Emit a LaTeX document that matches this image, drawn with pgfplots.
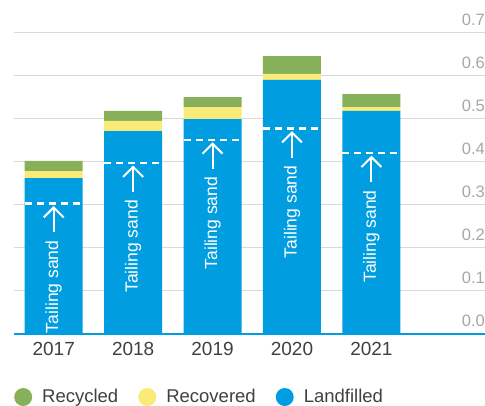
\documentclass[border=0pt]{standalone}
\usepackage{pgfplots}
\pgfplotsset{compat=1.18}
\usepackage{fontspec}
\setmainfont{Liberation Sans}
\usetikzlibrary{arrows.meta}
\definecolor{cgreen}{HTML}{86B05A}
\definecolor{cyellow}{HTML}{FAEB78}
\definecolor{cblue}{HTML}{009EE0}
\definecolor{cgrid}{HTML}{D9D9D9}
\definecolor{ctick}{HTML}{A6A6A6}
\definecolor{cyear}{HTML}{404040}
\begin{document}
\begin{tikzpicture}
\pgfplotsset{
  common/.style={
    scale only axis, width=471pt, height=301.5pt,
    xmin=-0.5, xmax=5.43, ymin=0, ymax=0.7,
  }
}
\begin{axis}[
  common,
  ybar stacked, bar width=58pt,
  axis x line*=bottom, axis y line*=right,
  x axis line style={draw=cblue, line width=2pt, -},
  y axis line style={draw=none},
  major tick length=0pt,
  xtick={0,1,2,3,4}, xticklabels={2017,2018,2019,2020,2021},
  xticklabel style={anchor=north, inner sep=0pt, yshift=-8.5pt, text=cyear, font=\fontsize{19}{20}\selectfont},
  ytick={0,0.1,0.2,0.3,0.4,0.5,0.6,0.7},
  yticklabel style={anchor=south east, inner sep=0pt, yshift=7pt, xshift=0pt, text=ctick, font=\fontsize{16.5}{18}\selectfont,
    /pgf/number format/.cd, fixed, fixed zerofill, precision=1, assume math mode=true},
  ymajorgrids, grid style={cgrid, line width=1pt},
  legend columns=3, reverse legend,
  legend style={draw=none, fill=none, at={(0,-0.209)}, anchor=west, inner sep=0pt,
    font=\fontsize{18.5}{20}\selectfont, text=cyear,
    /tikz/every odd column/.append style={column sep=8pt},
    /tikz/every even column/.append style={column sep=18pt}},
  legend cell align=left,
]
\coordinate (O) at (rel axis cs:0,0);
\coordinate (T) at (rel axis cs:1,1);
\addplot[fill=cblue, draw=none, legend image code/.code={\fill[cblue] (9pt,0pt) circle (9pt);}]
  coordinates {(0,0.362) (1,0.471) (2,0.499) (3,0.590) (4,0.518)};
\addlegendentry{Landfilled}
\addplot[fill=cyellow, draw=none, legend image code/.code={\fill[cyellow] (9pt,0pt) circle (9pt);}]
  coordinates {(0,0.016) (1,0.024) (2,0.028) (3,0.014) (4,0.009)};
\addlegendentry{Recovered}
\addplot[fill=cgreen, draw=none, legend image code/.code={\fill[cgreen] (9pt,0pt) circle (9pt);}]
  coordinates {(0,0.024) (1,0.023) (2,0.023) (3,0.041) (4,0.030)};
\addlegendentry{Recycled}
\end{axis}
\begin{axis}[common, hide axis]
\addplot[white, line width=2.2pt, dash pattern=on 7pt off 5pt] coordinates {(-0.365,0.303) (0.365,0.303)};
\addplot[white, line width=2.2pt, dash pattern=on 7pt off 5pt] coordinates {(0.635,0.397) (1.365,0.397)};
\addplot[white, line width=2.2pt, dash pattern=on 7pt off 5pt] coordinates {(1.635,0.451) (2.365,0.451)};
\addplot[white, line width=2.2pt, dash pattern=on 7pt off 5pt] coordinates {(2.635,0.477) (3.365,0.477)};
\addplot[white, line width=2.2pt, dash pattern=on 7pt off 5pt] coordinates {(3.635,0.420) (4.365,0.420)};
\foreach \i/\v in {0/0.303,1/0.397,2/0.451,3/0.477,4/0.420}{
  \edef\temp{\noexpand\draw[white, line width=2pt, -{Straight Barb[length=10pt,width=20pt]}]
    ([yshift=-29pt]axis cs:\i,\v) -- ([yshift=-2.5pt]axis cs:\i,\v);
  \noexpand\node[rotate=90, anchor=east, inner sep=0pt, text=white, font=\noexpand\fontsize{17.5}{18}\noexpand\selectfont]
    at ([yshift=-37pt]axis cs:\i,\v) {Tailing sand};}
  \temp
}
\end{axis}
\pgfresetboundingbox
\path ([shift={(-14pt,-72pt)}]O) rectangle ([shift={(0pt,32.5pt)}]T);
\end{tikzpicture}
\end{document}
